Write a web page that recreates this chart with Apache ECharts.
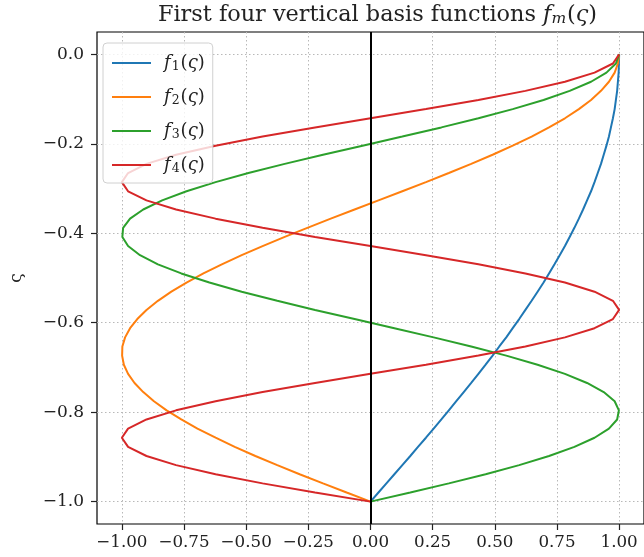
<!DOCTYPE html>
<html>
<head>
<meta charset="utf-8">
<script src="https://cdn.jsdelivr.net/npm/echarts@6/dist/echarts.min.js"></script>
<style>
  html, body { margin: 0; padding: 0; background: #fff; }
  #chart { width: 644px; height: 557px; }
</style>
</head>
<body>
<div id="chart"></div>
<script>
// Vertical coordinate ς, sampled from 0 down to -1 (50 levels)
const sigma = [0, -0.0204, -0.0408, -0.0612, -0.0816, -0.1020, -0.1224, -0.1429, -0.1633, -0.1837,
  -0.2041, -0.2245, -0.2449, -0.2653, -0.2857, -0.3061, -0.3265, -0.3469, -0.3673, -0.3878,
  -0.4082, -0.4286, -0.4490, -0.4694, -0.4898, -0.5102, -0.5306, -0.5510, -0.5714, -0.5918,
  -0.6122, -0.6327, -0.6531, -0.6735, -0.6939, -0.7143, -0.7347, -0.7551, -0.7755, -0.7959,
  -0.8163, -0.8367, -0.8571, -0.8776, -0.8980, -0.9184, -0.9388, -0.9592, -0.9796, -1.0];

// Basis function values at each ς level
const f1 = [1.000, 0.999, 0.998, 0.995, 0.992, 0.987, 0.982, 0.975, 0.967, 0.959,
  0.949, 0.938, 0.927, 0.914, 0.901, 0.887, 0.871, 0.855, 0.838, 0.820,
  0.801, 0.782, 0.761, 0.740, 0.718, 0.696, 0.672, 0.648, 0.623, 0.598,
  0.572, 0.546, 0.518, 0.491, 0.463, 0.434, 0.405, 0.375, 0.345, 0.315,
  0.285, 0.254, 0.223, 0.191, 0.160, 0.128, 0.096, 0.064, 0.032, 0.000];
const f2 = [1.000, 0.995, 0.982, 0.959, 0.927, 0.887, 0.838, 0.782, 0.718, 0.648,
  0.572, 0.491, 0.405, 0.315, 0.223, 0.128, 0.032, -0.064, -0.160, -0.254,
  -0.345, -0.434, -0.518, -0.598, -0.672, -0.740, -0.801, -0.855, -0.901, -0.938,
  -0.967, -0.987, -0.998, -0.999, -0.992, -0.975, -0.949, -0.914, -0.871, -0.820,
  -0.761, -0.696, -0.623, -0.546, -0.463, -0.375, -0.285, -0.191, -0.096, 0.000];
const f3 = [1.000, 0.987, 0.949, 0.887, 0.801, 0.696, 0.572, 0.434, 0.285, 0.128,
  -0.032, -0.191, -0.345, -0.491, -0.623, -0.740, -0.838, -0.914, -0.967, -0.995,
  -0.998, -0.975, -0.927, -0.855, -0.761, -0.648, -0.518, -0.375, -0.223, -0.064,
  0.096, 0.254, 0.405, 0.546, 0.672, 0.782, 0.871, 0.938, 0.982, 0.999,
  0.992, 0.959, 0.901, 0.820, 0.718, 0.598, 0.463, 0.315, 0.160, 0.000];
const f4 = [1.000, 0.975, 0.901, 0.782, 0.623, 0.434, 0.223, 0.000, -0.223, -0.434,
  -0.623, -0.782, -0.901, -0.975, -1.000, -0.975, -0.901, -0.782, -0.623, -0.434,
  -0.223, 0.000, 0.223, 0.434, 0.623, 0.782, 0.901, 0.975, 1.000, 0.975,
  0.901, 0.782, 0.623, 0.434, 0.223, 0.000, -0.223, -0.434, -0.623, -0.782,
  -0.901, -0.975, -1.000, -0.975, -0.901, -0.782, -0.623, -0.434, -0.223, 0.000];

const seriesNames = ['f1(ς)', 'f2(ς)', 'f3(ς)', 'f4(ς)'];
const seriesValues = [f1, f2, f3, f4];
const colors = ['#1f77b4', '#ff7f0e', '#2ca02c', '#d62728'];

const xTicks = [-1.0, -0.75, -0.5, -0.25, 0.0, 0.25, 0.5, 0.75, 1.0];
const yTicks = [-1.0, -0.8, -0.6, -0.4, -0.2, 0.0];

const FONT = 'DejaVu Serif';
const INK = '#222';
const fmt = (v, d) => v.toFixed(d).replace('-', '\u2212');

const gridLine = { show: true, lineStyle: { color: '#b8b8b8', width: 1, type: [1.5, 2.5] } };

const series = seriesValues.map((vals, i) => ({
  name: seriesNames[i],
  type: 'line',
  data: vals.map((v, k) => [v, sigma[k]]),
  symbol: 'none',
  smooth: false,
  lineStyle: { color: colors[i], width: 2 },
  itemStyle: { color: colors[i] },
  z: 3
}));

// vertical reference line at zero
series.push({
  name: 'zero',
  type: 'line',
  data: [],
  silent: true,
  markLine: {
    silent: true,
    symbol: 'none',
    label: { show: false },
    lineStyle: { color: '#000', width: 2, type: 'solid' },
    data: [{ xAxis: 0 }],
    z: 10
  }
});

const chart = echarts.init(document.getElementById('chart'), null, { renderer: 'canvas' });
chart.setOption({
  animation: false,
  grid: {
    left: 95, top: 32, right: -7, bottom: 33,
    show: true, borderColor: '#000', borderWidth: 1.2, backgroundColor: 'transparent'
  },
  graphic: [{
    type: 'text',
    x: 377.5, y: 15,
    style: {
      text: '{t|First four vertical basis functions }{i|f}{s|m}{t|(}{i|ς}{t|)}',
      align: 'center',
      verticalAlign: 'middle',
      rich: {
        t: { fontFamily: FONT, fontSize: 22.4, lineHeight: 24, fill: INK },
        i: { fontFamily: FONT, fontStyle: 'italic', fontSize: 22.4, lineHeight: 24, fill: INK },
        s: { fontFamily: FONT, fontStyle: 'italic', fontSize: 15.5, lineHeight: 15, verticalAlign: 'bottom', fill: INK, padding: [0, 1, 0, 0] }
      }
    }
  }],
  legend: {
    data: seriesNames,
    orient: 'vertical',
    left: 103, top: 43,
    padding: [10, 8, 8, 8],
    itemGap: 14,
    itemWidth: 39,
    itemHeight: 14,
    itemStyle: { opacity: 0 },
    backgroundColor: 'rgba(255,255,255,0.8)',
    borderColor: '#d0d0d0',
    borderWidth: 1,
    borderRadius: 4,
    formatter: name => '{f|f}{s|' + name.charAt(1) + '}{p|(}{f2|ς}{p|)}',
    textStyle: {
      color: INK,
      lineHeight: 20,
      rich: {
        f: { fontFamily: FONT, fontStyle: 'italic', fontSize: 18, color: INK, lineHeight: 20, padding: [0, 0, 0, 8] },
        f2: { fontFamily: FONT, fontStyle: 'italic', fontSize: 18, color: INK, lineHeight: 20 },
        s: { fontFamily: FONT, fontSize: 12.5, color: INK, lineHeight: 13, verticalAlign: 'bottom', padding: [0, 1, 0, 1] },
        p: { fontFamily: FONT, fontSize: 18, color: INK, lineHeight: 20 }
      }
    }
  },
  xAxis: {
    type: 'value',
    min: -1.1, max: 1.1,
    axisLine: { show: false, onZero: false },
    axisTick: { show: true, customValues: xTicks, length: 6, lineStyle: { color: INK, width: 1.2 } },
    axisLabel: {
      customValues: xTicks, formatter: v => fmt(v, 2),
      margin: 10, fontFamily: FONT, fontSize: 16.7, color: INK
    },
    splitLine: gridLine
  },
  yAxis: {
    type: 'value',
    min: -1.05, max: 0.05,
    name: 'ς',
    nameLocation: 'middle',
    nameGap: 72,
    nameRotate: 90,
    nameTextStyle: { fontFamily: FONT, fontSize: 17, color: INK },
    axisLine: { show: false, onZero: false },
    axisTick: { show: true, customValues: yTicks, length: 6, lineStyle: { color: INK, width: 1.2 } },
    axisLabel: {
      customValues: yTicks, formatter: v => fmt(v, 1),
      margin: 13, fontFamily: FONT, fontSize: 17, color: INK
    },
    splitLine: gridLine
  },
  series: series
});
</script>
</body>
</html>
